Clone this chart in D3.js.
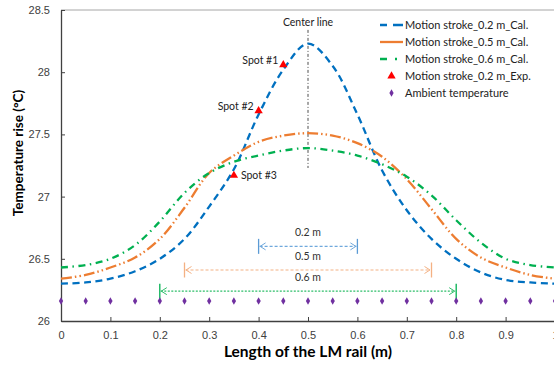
<!DOCTYPE html>
<html>
<head>
<meta charset="utf-8">
<script src="https://cdn.jsdelivr.net/npm/d3@7"></script>
<style>
  body { margin: 0; background: #fff; }
  svg { display: block; font-family: Lato, "Open Sans", sans-serif; }
</style>
</head>
<body>
<svg id="chart" width="554" height="366"></svg>
<script>
// chart values
const positions = [0, 0.05, 0.1, 0.15, 0.2, 0.25, 0.3, 0.35, 0.4, 0.45, 0.5,
                   0.55, 0.6, 0.65, 0.7, 0.75, 0.8, 0.85, 0.9, 0.95, 1];
const stroke02 = [26.30, 26.31, 26.34, 26.40, 26.50, 26.66, 26.92, 27.22, 27.66, 28.02, 28.23,
                  28.05, 27.66, 27.21, 26.89, 26.66, 26.50, 26.39, 26.33, 26.31, 26.30];
const stroke05 = [26.34, 26.37, 26.43, 26.51, 26.66, 26.91, 27.19, 27.33, 27.44, 27.49, 27.51,
                  27.49, 27.43, 27.32, 27.14, 26.90, 26.66, 26.51, 26.43, 26.37, 26.34];
const stroke06 = [26.43, 26.45, 26.50, 26.61, 26.80, 27.03, 27.19, 27.28, 27.33, 27.37, 27.39,
                  27.37, 27.33, 27.26, 27.16, 27.01, 26.81, 26.63, 26.50, 26.45, 26.43];
const ambient = [26.16, 26.16, 26.16, 26.16, 26.16, 26.16, 26.16, 26.16, 26.16, 26.16, 26.16,
                 26.16, 26.16, 26.16, 26.16, 26.16, 26.16, 26.16, 26.16, 26.16, 26.16];

const spotX = [0.45, 0.4, 0.35];
const spotY = [28.06, 27.69, 27.17];
const spotLabels = ["Spot #1", "Spot #2", "Spot #3"];

const dimLabels = ["0.2 m", "0.5 m", "0.6 m"];
const dimStart = [0.4, 0.25, 0.2];
const dimEnd = [0.6, 0.75, 0.8];
const dimLevel = [26.6, 26.41, 26.24];

const xTicks = [0, 0.1, 0.2, 0.3, 0.4, 0.5, 0.6, 0.7, 0.8, 0.9, 1];
const yTicks = [26, 26.5, 27, 27.5, 28, 28.5];

const seriesNames = ["Motion stroke_0.2 m_Cal.", "Motion stroke_0.5 m_Cal.", "Motion stroke_0.6 m_Cal.",
                     "Motion stroke_0.2 m_Exp.", "Ambient temperature"];

const svg = d3.select("#chart");
const margin = { top: 10, right: -1, bottom: 45, left: 61 };
const width = 554 - margin.left - margin.right;
const height = 366 - margin.top - margin.bottom;

const x = d3.scaleLinear().domain([0, 1]).range([0, width]);
const y = d3.scaleLinear().domain([26, 28.5]).range([height, 0]);

const g = svg.append("g").attr("transform", `translate(${margin.left}, ${margin.top})`);

// plot frame (top edge is a light gray line)
g.append("line")
    .attr("x1", 0).attr("x2", width).attr("y1", 0).attr("y2", 0)
    .attr("stroke", "#a6a6a6").attr("stroke-width", 1);

// axes, ticks pointing inwards
const xAxis = g.append("g")
    .attr("transform", `translate(0, ${height})`)
    .call(d3.axisBottom(x).tickValues(xTicks).tickSizeInner(-4).tickSizeOuter(0).tickPadding(10)
        .tickFormat(d => d === 0 || d === 1 ? d : d3.format(".1f")(d)));
const yAxis = g.append("g")
    .call(d3.axisLeft(y).tickValues(yTicks).tickSizeInner(-4).tickSizeOuter(0).tickPadding(11)
        .tickFormat(d => d));
[xAxis, yAxis].forEach(a => {
    a.select(".domain").attr("stroke", "#404040").attr("stroke-width", 1.3);
    a.selectAll(".tick line").attr("stroke", "#404040");
    a.selectAll(".tick text").attr("fill", "#404040").style("font-size", "11px");
});

// axis titles
svg.append("text")
    .attr("x", 308).attr("y", 357)
    .attr("text-anchor", "middle")
    .style("font-size", "15.5px").style("font-weight", "bold")
    .text("Length of the LM rail (m)");
svg.append("text")
    .attr("transform", "translate(23, 153) rotate(-90)")
    .attr("text-anchor", "middle")
    .style("font-size", "13.5px").style("font-weight", "bold")
    .text("Temperature rise (°C)");

// center line
g.append("line")
    .attr("x1", x(0.5)).attr("x2", x(0.5))
    .attr("y1", y(28.34)).attr("y2", y(27.23))
    .attr("stroke", "#222").attr("stroke-width", 0.8)
    .attr("stroke-dasharray", "3,2,1,2");
g.append("text")
    .attr("x", x(0.5)).attr("y", y(28.37))
    .attr("text-anchor", "middle")
    .style("font-size", "10.5px").attr("fill", "#222")
    .text("Center line");

// dimension lines
const dimColors = ["#6fa8dc", "#f4b183", "#2fbf6a"];
const barColors = ["#5b9bd5", "#f4b183", "#00b050"];
const dimDash = ["3,2", "3,2", "2,1.5"];
dimLabels.forEach((label, i) => {
    const yy = y(dimLevel[i]);
    const x1 = x(dimStart[i]), x2 = x(dimEnd[i]);
    g.append("line")
        .attr("x1", x1 + 1).attr("x2", x2 - 1).attr("y1", yy).attr("y2", yy)
        .attr("stroke", dimColors[i]).attr("stroke-width", 1.2)
        .attr("stroke-dasharray", dimDash[i]);
    // open arrow heads
    g.append("path")
        .attr("d", `M${x1 + 7},${yy - 3.5}L${x1 + 1.5},${yy}L${x1 + 7},${yy + 3.5}`)
        .attr("fill", "none").attr("stroke", dimColors[i]).attr("stroke-width", 1);
    g.append("path")
        .attr("d", `M${x2 - 7},${yy - 3.5}L${x2 - 1.5},${yy}L${x2 - 7},${yy + 3.5}`)
        .attr("fill", "none").attr("stroke", dimColors[i]).attr("stroke-width", 1);
    // end bars
    [x1, x2].forEach(xx => {
        g.append("line")
            .attr("x1", xx).attr("x2", xx).attr("y1", yy - 7.5).attr("y2", yy + 7.5)
            .attr("stroke", barColors[i]).attr("stroke-width", 1.3);
    });
    g.append("text")
        .attr("x", x(0.5)).attr("y", yy - 10)
        .attr("text-anchor", "middle")
        .style("font-size", "10.5px").attr("fill", "#333")
        .text(label);
});

// calculated curves
const curves = [
    { values: stroke02, color: "#0070c0", dash: "7,4.5" },
    { values: stroke05, color: "#ed7d31", dash: "11,3,1.5,3,1.5,3" },
    { values: stroke06, color: "#00b050", dash: "7,4.5,1.5,4.5" }
];
const line = d3.line()
    .x(d => x(d[0]))
    .y(d => y(d[1]))
    .curve(d3.curveCatmullRom.alpha(0.5));
curves.forEach(c => {
    g.append("path")
        .datum(positions.map((p, i) => [p, c.values[i]]))
        .attr("fill", "none")
        .attr("stroke", c.color)
        .attr("stroke-width", 2.3)
        .attr("stroke-dasharray", c.dash)
        .attr("d", line);
});

// ambient temperature markers
g.selectAll(".ambient")
    .data(positions)
    .enter()
    .append("path")
    .attr("class", "ambient")
    .attr("transform", (d, i) => `translate(${x(d)}, ${y(ambient[i])})`)
    .attr("d", d3.symbol(d3.symbolDiamond, 16))
    .attr("fill", "#7030a0");

// experimental spots
g.selectAll(".spot")
    .data(spotX)
    .enter()
    .append("path")
    .attr("class", "spot")
    .attr("transform", (d, i) => `translate(${x(d)}, ${y(spotY[i])})`)
    .attr("d", d3.symbol(d3.symbolTriangle, 30))
    .attr("fill", "#ff0000");
g.selectAll(".spot-label")
    .data(spotLabels)
    .enter()
    .append("text")
    .attr("class", "spot-label")
    .attr("x", (d, i) => i === 2 ? x(spotX[i]) + 7 : x(spotX[i]) - 5)
    .attr("y", (d, i) => y(spotY[i]) + (i === 2 ? 4 : -1))
    .attr("text-anchor", (d, i) => i === 2 ? "start" : "end")
    .style("font-size", "10.5px").attr("fill", "#222")
    .text(d => d);

// legend
const legend = svg.append("g").attr("transform", "translate(380, 25)");
const legendRow = 17;
seriesNames.forEach((name, i) => {
    const row = legend.append("g").attr("transform", `translate(0, ${i * legendRow})`);
    if (i < 3) {
        row.append("line")
            .attr("x1", 0).attr("x2", 23).attr("y1", 0).attr("y2", 0)
            .attr("stroke", curves[i].color).attr("stroke-width", 2.3)
            .attr("stroke-dasharray", i === 0 ? "7,6,10" : i === 1 ? "23" : "7,8,2,10");
    } else if (i === 3) {
        row.append("path")
            .attr("transform", "translate(11.5, 0)")
            .attr("d", d3.symbol(d3.symbolTriangle, 30))
            .attr("fill", "#ff0000");
    } else {
        row.append("path")
            .attr("transform", "translate(11.5, 0)")
            .attr("d", d3.symbol(d3.symbolDiamond, 16))
            .attr("fill", "#7030a0");
    }
    row.append("text")
        .attr("x", 25).attr("y", 4)
        .style("font-size", "11px").attr("fill", "#222")
        .text(name);
});
</script>
</body>
</html>
